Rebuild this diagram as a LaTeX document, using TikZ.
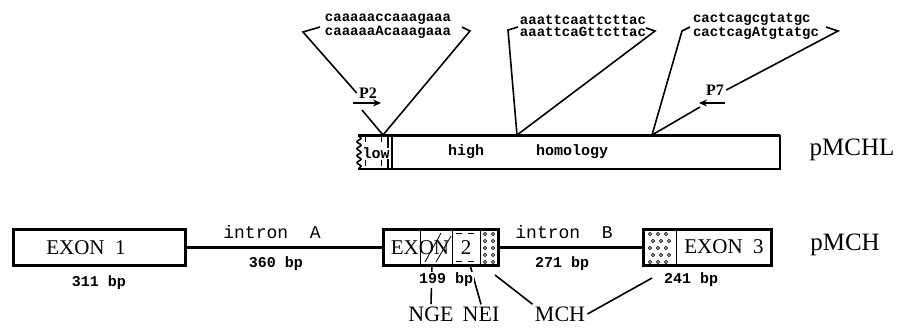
\documentclass[tikz,border=0pt]{standalone}
\usepackage{fontspec}
\setmainfont{Liberation Serif}
\newfontfamily\seqfont{Liberation Mono}
\usetikzlibrary{arrows.meta,decorations.pathmorphing}

\begin{document}
\begin{tikzpicture}[x=0.5pt, y=-0.5pt, >={Stealth[length=4pt,width=3.5pt]},
  seq/.style={font=\seqfont\bfseries\fontsize{7}{6}\selectfont, align=left, inner sep=0pt},
  lbl/.style={font=\seqfont\bfseries\fontsize{7.5}{9}\selectfont, inner sep=1pt},
  intr/.style={font=\seqfont\fontsize{9}{11}\selectfont, inner sep=1pt},
  exn/.style={font=\fontsize{10.5}{12}\selectfont, inner sep=1pt},
  big/.style={font=\fontsize{12.5}{14}\selectfont, inner sep=1pt},
  feat/.style={font=\fontsize{11}{12}\selectfont, inner sep=1pt},
  prm/.style={font=\bfseries\fontsize{8}{9}\selectfont, inner sep=1pt},
  exbox/.style={draw, line width=1.5pt, minimum height=18pt, inner sep=0pt},
  ln/.style={line width=0.8pt},
  dot/.style={line width=0.4pt}]
  \useasboundingbox (0,0) rectangle (899,328);

  % pMCHL bar
  \draw[line width=1.5pt] (358,135) -- (780,135);
  \draw[ln] (780,135) -- (780,169) -- (358,169);
  \draw[ln, decorate, decoration={snake, amplitude=1pt, segment length=3.5pt}] (359,136) -- (359,169);
  \draw[dot, dashed] (365,136) -- (365,169);
  \draw[dot, dashed] (381,136) -- (381,169);
  \draw[ln] (388,136) -- (388,169);
  \draw[ln] (392,136) -- (392,169);
  \node[lbl, fill=white, inner sep=0pt] (low) at (376,153) {low};
  \node[lbl] (high) at (466,152) {high};
  \node[lbl] (homol) at (572,152) {homology};
  \node[big] (pmchl) at (852,150) {pMCHL};
  \coordinate (hitA) at (383,135);
  \coordinate (hitB) at (517,135);
  \coordinate (hitC) at (652,135);

  % sequence changes
  \node[seq] (seqA) at (388,26) {caaaaaccaaagaaa\\caaaaaAcaaagaaa};
  \node[seq] (seqB) at (583,26) {aaattcaattcttac\\aaattcaGttcttac};
  \node[seq] (seqC) at (756,26) {cactcagcgtatgc\\cactcagAtgtatgc};

  % primers
  \node[prm] (p2) at (368,93) {P2};
  \coordinate (p2a) at (353,103);
  \coordinate (p2b) at (381,103);
  \draw[->, line width=1.2pt] (p2a) -- (p2b);
  \node[prm] (p7) at (715,90) {P7};
  \coordinate (p7a) at (725,103);
  \coordinate (p7b) at (699,103);
  \draw[->, line width=1.2pt] (p7a) -- (p7b);

  % brackets
  \draw[ln] (320,27) -- (303,32) -- (p2.west);
  \draw[ln] (362,110) -- (hitA);
  \draw[ln] (462,27) -- (470,31) -- (hitA);
  \draw[ln] (518,27) -- (508,30) -- (hitB);
  \draw[ln] (646,28) -- (655,31) -- (hitB);
  \draw[ln] (690,27) -- (682,31) -- (hitC);
  \draw[ln] (826,27) -- (838,31) -- (p7.east);
  \draw[ln] (700,107) -- (hitC);

  % pMCH gene
  \node[exbox, minimum width=86pt] (ex1) at (99,247) {};
  \node[exbox, minimum width=57.5pt] (ex2) at (440.5,247) {};
  \node[exbox, minimum width=64pt] (ex3) at (707,247) {};
  \draw[line width=1.5pt] (ex1) -- (ex2);
  \draw[line width=1.5pt] (ex2) -- (ex3);

  \node[exn] (t1) at (86,248) {EXON\ \ 1};
  \node[exn] (t2) at (420,248) {EXON};
  \node[exn] (t2b) at (466,248) {2};
  \node[exn] (t3) at (724,247) {EXON\ \ 3};
  \node[big] (pmch) at (845,245) {pMCH};

  % exon 2 regions
  \draw[dot] (420,229) -- (420,265);
  \draw[dot] (452,229) -- (452,265);
  \draw[dot] (480,229) -- (480,265);
  \draw[dot] (425,262) -- (441,233);
  \draw[dot] (436,262) -- (451,236);
  \draw[dot, dashed] (456,233) -- (477,233);
  \draw[dot, dashed] (456,261) -- (477,261);
  \foreach \y in {234,241,248,255,262}
    \foreach \x in {485,493}
      \draw[dot] (\x,\y) circle (1.6);
  % exon 3 dots
  \draw[dot] (676,229) -- (676,265);
  \foreach \y/\s in {234/0,241/3,248/0,255/3,262/0}
    \foreach \x in {650,658,666}
      \draw[dot] (\x+\s,\y) circle (1.6);

  % sizes
  \node[intr] (inA) at (272,232) {intron\ \ A};
  \node[intr] (inB) at (564,232) {intron\ \ B};
  \node[lbl] (bp1) at (99,283) {311 bp};
  \node[lbl] (bpA) at (276,264) {360 bp};
  \node[lbl] (bpB) at (562,264) {271 bp};
  \node[lbl] (bp3) at (691,280) {241 bp};

  % feature labels
  \node[feat] (nge) at (431,314) {NGE};
  \node[feat] (nei) at (481,314) {NEI};
  \node[feat] (mch) at (560,314) {MCH};
  \coordinate (ngeTop) at (432,265);
  \coordinate (neiTop) at (470,265);
  \coordinate (mchA) at (495,275);
  \coordinate (mchB) at (652,278);
  \draw[ln] (ngeTop) -- (nge.north);
  \draw[ln] (neiTop) -- (nei.north);
  \draw[ln] (mchA) -- (mch.north west);
  \draw[ln] (mchB) -- (mch.east);
  \node[lbl, fill=white, inner sep=0.5pt] (bp2) at (446,280) {199 bp};
\end{tikzpicture}
\end{document}
